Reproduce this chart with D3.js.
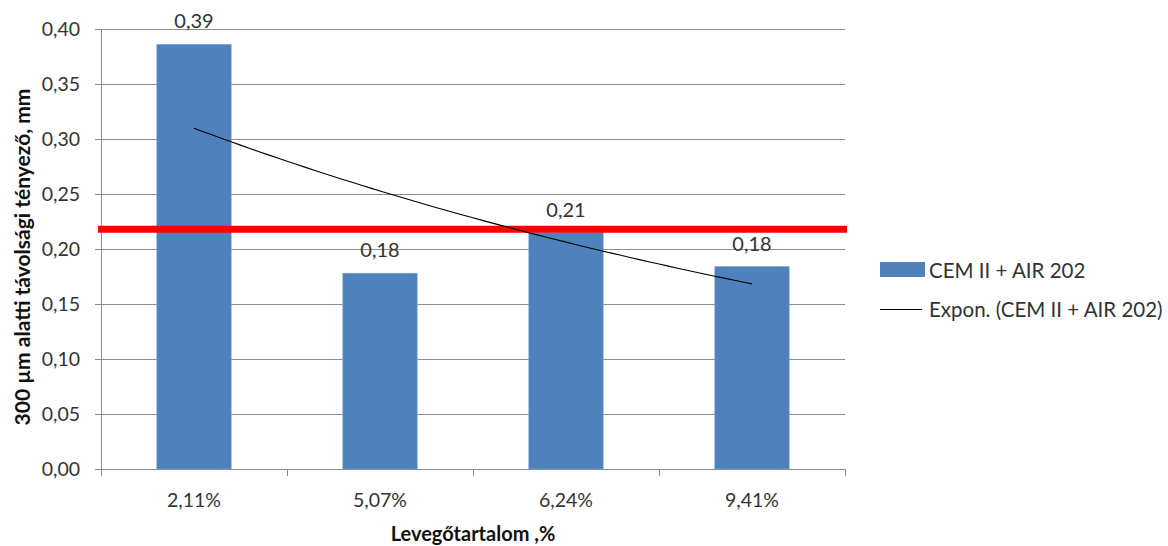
<!DOCTYPE html>
<html>
<head>
<meta charset="utf-8">
<script src="https://cdn.jsdelivr.net/npm/d3@7"></script>
<style>
  html, body { margin: 0; padding: 0; background: #fff; }
  svg { display: block; }
  text { font-family: Lato, "Open Sans", "Noto Sans", sans-serif; }
</style>
</head>
<body>
<svg id="chart" width="1168" height="546"></svg>
<script>
// Air content categories and the measured spacing factor (mm)
const categories = ["2,11%", "5,07%", "6,24%", "9,41%"];
const values = [0.386, 0.178, 0.215, 0.184];
const valueLabels = ["0,39", "0,18", "0,21", "0,18"];
const yTicks = [0, 0.05, 0.10, 0.15, 0.20, 0.25, 0.30, 0.35, 0.40];
const limitValue = [0.218];          // horizontal limit line
const seriesName = "CEM II + AIR 202";
const trendName = "Expon. (CEM II + AIR 202)";

const svg = d3.select("#chart");
const plot = { left: 101, right: 845, top: 29, bottom: 469 };

const x = d3.scaleBand().domain(categories).range([plot.left, plot.right]).paddingInner(0.6).paddingOuter(0.3);
const y = d3.scaleLinear().domain([0, 0.40]).range([plot.bottom, plot.top]);
const fmt = v => d3.format(".2f")(v).replace(".", ",");

// horizontal gridlines
svg.append("g").selectAll("line").data(yTicks.filter(t => t > 0)).join("line")
  .attr("x1", plot.left).attr("x2", plot.right)
  .attr("y1", d => y(d)).attr("y2", d => y(d))
  .attr("stroke", "#8c8c8c").attr("stroke-width", 1).attr("shape-rendering", "crispEdges");

// y axis
const yAxis = svg.append("g").attr("transform", `translate(${plot.left},0)`)
  .call(d3.axisLeft(y).tickValues(yTicks).tickFormat(fmt).tickSize(6).tickPadding(15));
yAxis.select(".domain").attr("stroke", "#8c8c8c").attr("shape-rendering", "crispEdges");
yAxis.selectAll(".tick line").attr("stroke", "#8c8c8c").attr("shape-rendering", "crispEdges");
yAxis.selectAll(".tick text").attr("font-size", 19.5).attr("fill", "#333")
  .attr("font-family", "Lato, 'Open Sans', sans-serif");

// x axis with ticks at band boundaries
const xAxisG = svg.append("g");
xAxisG.append("line").attr("x1", plot.left).attr("x2", plot.right)
  .attr("y1", plot.bottom).attr("y2", plot.bottom)
  .attr("stroke", "#8c8c8c").attr("shape-rendering", "crispEdges");
const bounds = d3.range(categories.length + 1).map(i => plot.left + i * (plot.right - plot.left) / categories.length);
xAxisG.selectAll("line.tk").data(bounds).join("line").attr("class", "tk")
  .attr("x1", d => d).attr("x2", d => d).attr("y1", plot.bottom).attr("y2", plot.bottom + 7)
  .attr("stroke", "#8c8c8c").attr("shape-rendering", "crispEdges");
xAxisG.selectAll("text").data(categories).join("text")
  .attr("x", d => x(d) + x.bandwidth() / 2).attr("y", 507)
  .attr("text-anchor", "middle").attr("font-size", 19.5).attr("fill", "#333")
  .text(d => d);

// bars
svg.append("g").selectAll("rect").data(values).join("rect")
  .attr("x", (d, i) => x(categories[i]))
  .attr("width", x.bandwidth())
  .attr("y", d => y(d))
  .attr("height", d => y(0) - y(d))
  .attr("fill", "#4f81bd").attr("stroke", "#7fa3d3").attr("stroke-width", 0.6);

// value labels
svg.append("g").selectAll("text").data(values).join("text")
  .attr("x", (d, i) => x(categories[i]) + x.bandwidth() / 2)
  .attr("y", d => y(d) - 16)
  .attr("text-anchor", "middle").attr("font-size", 20).attr("fill", "#333")
  .text((d, i) => valueLabels[i]);

// limit line
svg.append("g").selectAll("line").data(limitValue).join("line")
  .attr("x1", plot.left - 3).attr("x2", plot.right + 2)
  .attr("y1", d => y(d)).attr("y2", d => y(d))
  .attr("stroke", "#ff0000").attr("stroke-width", 7);

// exponential least-squares trend over category index 1..n
const xs = values.map((d, i) => i + 1);
const lv = values.map(v => Math.log(v));
const mx = d3.mean(xs), my = d3.mean(lv);
const b = d3.sum(xs, (xi, i) => (xi - mx) * (lv[i] - my)) / d3.sum(xs, xi => (xi - mx) ** 2);
const a = my - b * mx;
const xIdx = d3.scaleLinear().domain([1, categories.length])
  .range([x(categories[0]) + x.bandwidth() / 2, x(categories[categories.length - 1]) + x.bandwidth() / 2]);
const trendPts = d3.range(1, categories.length + 0.001, 0.05).map(t => [xIdx(t), y(Math.exp(a + b * t))]);
svg.append("path").datum(trendPts)
  .attr("d", d3.line())
  .attr("fill", "none").attr("stroke", "#000").attr("stroke-width", 1.1);

// legend
const lg = svg.append("g");
lg.append("rect").attr("x", 880).attr("y", 262).attr("width", 45).attr("height", 15).attr("fill", "#4f81bd");
lg.append("text").attr("x", 929).attr("y", 270).attr("dominant-baseline", "central")
  .attr("font-size", 20.5).attr("fill", "#333").text(seriesName);
lg.append("line").attr("x1", 880).attr("x2", 922).attr("y1", 309.5).attr("y2", 309.5)
  .attr("stroke", "#000").attr("stroke-width", 1);
lg.append("text").attr("x", 929).attr("y", 309).attr("dominant-baseline", "central")
  .attr("font-size", 20.5).attr("fill", "#333").text(trendName);

// axis titles
svg.append("text").attr("transform", "translate(30,257) rotate(-90)")
  .attr("text-anchor", "middle").attr("font-size", 21).attr("font-weight", "bold").attr("fill", "#111")
  .text("300 µm alatti távolsági tényező, mm");
svg.append("text").attr("x", 473).attr("y", 541)
  .attr("text-anchor", "middle").attr("font-size", 20).attr("font-weight", "bold").attr("fill", "#111")
  .text("Levegőtartalom ,%");
</script>
</body>
</html>
